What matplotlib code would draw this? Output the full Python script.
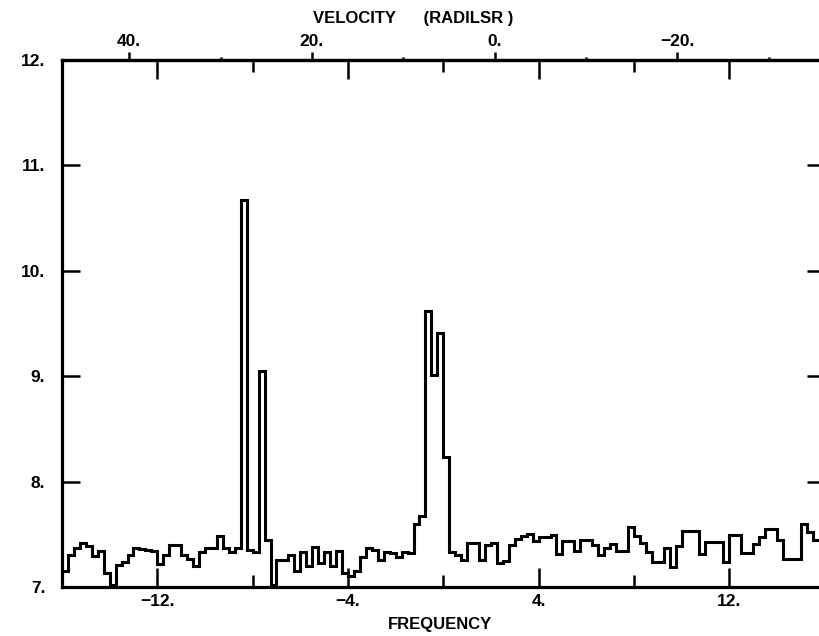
import numpy as np
import matplotlib
matplotlib.use("Agg")
import matplotlib.pyplot as plt

plt.rcParams['font.family'] = ['Liberation Sans', 'DejaVu Sans']
plt.rcParams['font.weight'] = 'bold'

# channel edges in frequency, 128 channels of 0.25
freq_lo, freq_hi = -16.0, 16.0
n_chan = 128

intensity = [
    7.15, 7.30, 7.37, 7.42, 7.39, 7.29, 7.34, 7.13, 7.02, 7.21,
    7.24, 7.30, 7.37, 7.36, 7.35, 7.34, 7.22, 7.30, 7.40, 7.40,
    7.30, 7.27, 7.20, 7.33, 7.37, 7.37, 7.48, 7.37, 7.33, 7.37,
    10.67, 7.35, 7.33, 9.05, 7.45, 7.02, 7.26, 7.26, 7.30, 7.15,
    7.33, 7.20, 7.38, 7.23, 7.33, 7.20, 7.34, 7.13, 7.10, 7.15,
    7.28, 7.37, 7.35, 7.26, 7.33, 7.32, 7.28, 7.33, 7.32, 7.60,
    7.67, 9.62, 9.01, 9.41, 8.23, 7.33, 7.30, 7.26, 7.42, 7.42,
    7.26, 7.40, 7.42, 7.23, 7.25, 7.40, 7.46, 7.48, 7.50, 7.44,
    7.47, 7.47, 7.49, 7.31, 7.44, 7.44, 7.34, 7.45, 7.45, 7.40,
    7.30, 7.37, 7.41, 7.34, 7.34, 7.57, 7.48, 7.42, 7.33, 7.24,
    7.24, 7.37, 7.19, 7.39, 7.53, 7.53, 7.53, 7.31, 7.43, 7.43,
    7.43, 7.24, 7.49, 7.49, 7.32, 7.32, 7.41, 7.47, 7.55, 7.55,
    7.45, 7.27, 7.27, 7.27, 7.60, 7.52, 7.45, 7.45,
]

freq_major = [-12, -4, 4, 12]
freq_minor = [-8, 0, 8]
vel_major = [40, 20, 0, -20]
vel_minor = [30, 10, -10, -30]
y_ticks = [7, 8, 9, 10, 11, 12]

# velocity scale: v = -2.609 * (f - 2.15)
v_slope, f_zero = -2.609, 2.15


def f2v(f):
    return v_slope * (np.asarray(f) - f_zero)


def v2f(v):
    return np.asarray(v) / v_slope + f_zero


def lab(x):
    return (str(x) + ".").replace("-", "\u2212")


edges = np.linspace(freq_lo, freq_hi, n_chan + 1)

fig = plt.figure(figsize=(8.19, 6.36), dpi=100)
ax = fig.add_axes([62 / 819, 1 - 587 / 636, 762.6 / 819, 527 / 636])

ax.stairs(intensity, edges, color='black', lw=2.2, baseline=None)

ax.set_xlim(freq_lo, freq_hi)
ax.set_ylim(7, 12)

for s in ax.spines.values():
    s.set_linewidth(2.3)

ax.set_xticks(freq_major, [lab(v) for v in freq_major])
ax.set_xticks(freq_minor, minor=True)
ax.tick_params(axis='x', which='both', direction='in', top=True, bottom=True,
               width=1.8, labelsize=12.5, pad=5)
ax.tick_params(axis='x', which='major', length=13.5)
ax.tick_params(axis='x', which='minor', length=8.5)

ax.set_yticks(y_ticks, [lab(v) for v in y_ticks])
ax.tick_params(axis='y', which='both', direction='in', left=True, right=True,
               length=13, width=1.8, labelsize=12.5, pad=12)

sec = ax.secondary_xaxis('top', functions=(f2v, v2f))
sec.set_xticks(vel_major, [lab(v) for v in vel_major])
sec.set_xticks(vel_minor, minor=True)
sec.tick_params(which='both', direction='out', width=1.8, labelsize=12.5, pad=2)
sec.tick_params(which='major', length=6)
sec.tick_params(which='minor', length=2.5)
sec.spines['top'].set_linewidth(2.3)

ax.text((413 - 62) / 762.6, (587 - 19) / 527, "VELOCITY      (RADILSR )",
        transform=ax.transAxes, ha='center', va='center', fontsize=12,
        fontweight='bold')
ax.text((440 - 62) / 762.6, (587 - 625) / 527, "FREQUENCY",
        transform=ax.transAxes, ha='center', va='center', fontsize=12,
        fontweight='bold')

fig.savefig("out.png", dpi=100)
